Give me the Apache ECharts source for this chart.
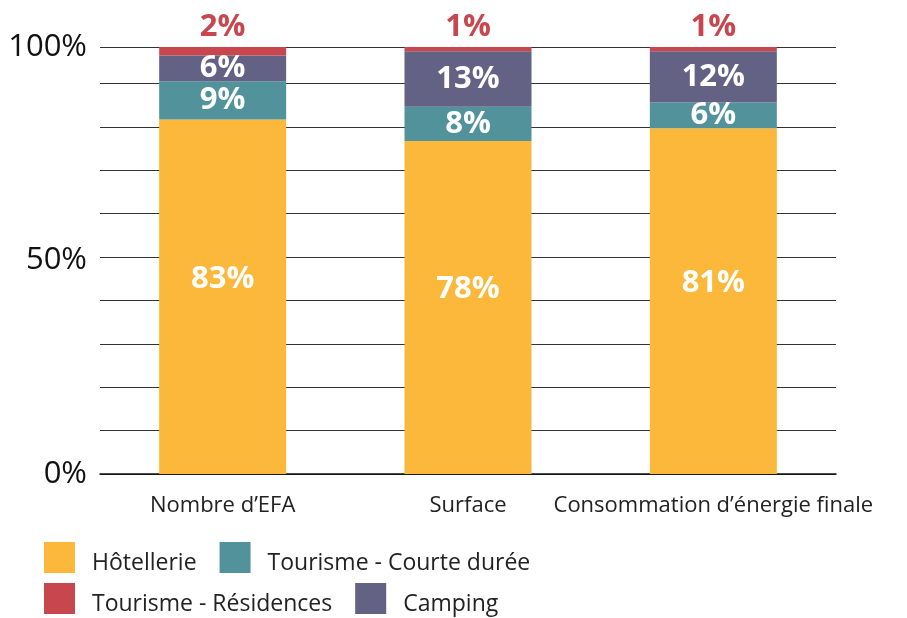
<!DOCTYPE html>
<html>
<head>
<meta charset="utf-8">
<script src="https://cdn.jsdelivr.net/npm/echarts@6/dist/echarts.min.js"></script>
<style>
  html, body { margin: 0; padding: 0; background: #fff; }
  #chart { width: 907px; height: 618px; }
</style>
</head>
<body>
<div id="chart"></div>
<script>
  const categories = ["Nombre d’EFA", "Surface", "Consommation d’énergie finale"];
  const hotellerie = [83, 78, 81];
  const courteDuree = [9, 8, 6];
  const camping = [6, 13, 12];
  const residences = [2, 1, 1];
  const seriesNames = ["Hôtellerie", "Tourisme - Courte durée", "Tourisme - Résidences", "Camping"];

  const font = "Open Sans";
  const colors = {
    hotel: "#FBB83A",
    courte: "#52929B",
    resid: "#C8474F",
    camping: "#636285",
  };

  const whiteLabel = {
    show: true,
    position: "inside",
    formatter: "{c}%",
    color: "#fff",
    fontFamily: font,
    fontWeight: "bold",
    fontSize: 31,
  };

  function barSeries(name, data, color, label) {
    return {
      name,
      type: "bar",
      stack: "total",
      data,
      barWidth: 127,
      yAxisIndex: 0,
      itemStyle: { color },
      label,
    };
  }

  // text sits a little below the icon centre in the original
  const legendText = {
    fontFamily: font,
    fontSize: 23,
    color: "#222",
    rich: { t: { fontFamily: font, fontSize: 23, color: "#222", padding: [12, 0, 0, 12] } },
  };

  const chart = echarts.init(document.getElementById("chart"), null, { renderer: "canvas" });
  chart.setOption({
    animation: false,
    grid: { left: 100, right: 71, top: 47, bottom: 144, containLabel: false },
    xAxis: {
      type: "category",
      data: categories,
      axisTick: { show: false },
      axisLine: { lineStyle: { color: "#111", width: 1.5 } },
      axisLabel: { interval: 0, fontFamily: font, fontSize: 22, color: "#222", margin: 21 },
    },
    yAxis: [
      {
        type: "value",
        min: 0,
        max: 100,
        interval: 50,
        splitLine: { show: false },
        axisLine: { show: false },
        axisTick: { show: false },
        axisLabel: { formatter: "{value}%", fontFamily: font, fontSize: 31, color: "#111", margin: 13 },
      },
      {
        type: "value",
        min: 0,
        max: 98.4,
        interval: 10,
        position: "left",
        axisLine: { show: false },
        axisTick: { show: false },
        axisLabel: { show: false },
        splitLine: { lineStyle: { color: "#333", width: 1 } },
      },
    ],
    legend: [
      {
        data: [seriesNames[0], seriesNames[1]],
        left: 39,
        top: 537,
        itemWidth: 31,
        itemHeight: 31,
        itemGap: 23,
        icon: "rect",
        formatter: "{t|{name}}",
        textStyle: legendText,
      },
      {
        data: [seriesNames[2], seriesNames[3]],
        left: 39,
        top: 578,
        itemWidth: 31,
        itemHeight: 31,
        itemGap: 23,
        icon: "rect",
        formatter: "{t|{name}}",
        textStyle: legendText,
      },
    ],
    series: [
      barSeries(seriesNames[0], hotellerie, colors.hotel, Object.assign({}, whiteLabel, { offset: [0, -18] })),
      barSeries(seriesNames[1], courteDuree, colors.courte, whiteLabel),
      barSeries(seriesNames[3], camping, colors.camping, whiteLabel),
      barSeries(seriesNames[2], residences, colors.resid, Object.assign({}, whiteLabel, {
        position: "top",
        distance: 4,
        color: colors.resid,
      })),
    ],
  });
</script>
</body>
</html>
